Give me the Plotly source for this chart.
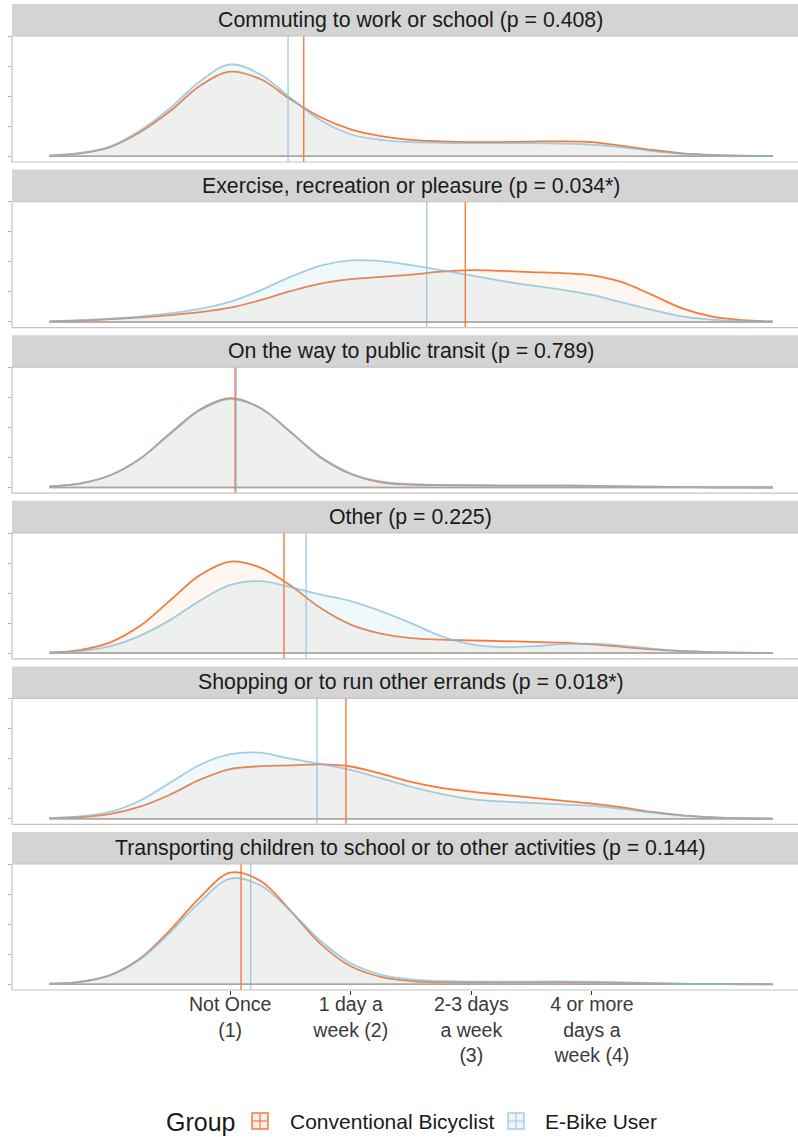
import plotly.graph_objects as go

# ---------------- data ----------------
x_grid = [-0.5, -0.25, 0, 0.25, 0.5, 0.75, 1, 1.25, 1.5, 1.75, 2, 2.25, 2.5,
          2.75, 3, 3.25, 3.5, 3.75, 4, 4.25, 4.5, 4.75, 5, 5.25, 5.5]

panel_titles = [
    "Commuting to work or school (p = 0.408)",
    "Exercise, recreation or pleasure (p = 0.034*)",
    "On the way to public transit (p = 0.789)",
    "Other (p = 0.225)",
    "Shopping or to run other errands (p = 0.018*)",
    "Transporting children to school or to other activities (p = 0.144)",
]

legend_title = "Group"
group_names = ["Conventional Bicyclist", "E-Bike User"]

tick_values = [1, 2, 3, 4]
tick_labels = ["Not Once<br>(1)", "1 day a<br>week (2)",
               "2-3 days<br>a week<br>(3)", "4 or more<br>days a<br>week (4)"]

commute_conv = [0.005, 0.02, 0.06, 0.16, 0.30, 0.47, 0.564, 0.515, 0.38, 0.26, 0.18, 0.135, 0.11,
                0.10, 0.095, 0.095, 0.098, 0.10, 0.095, 0.07, 0.042, 0.02, 0.009, 0.004, 0.002]
commute_ebike = [0.005, 0.022, 0.065, 0.17, 0.32, 0.50, 0.613, 0.545, 0.39, 0.24, 0.147, 0.11, 0.095,
                 0.09, 0.088, 0.088, 0.088, 0.085, 0.078, 0.06, 0.035, 0.017, 0.007, 0.003, 0.001]

exercise_conv = [0.003, 0.008, 0.018, 0.03, 0.045, 0.065, 0.095, 0.145, 0.205, 0.255, 0.285, 0.30, 0.315,
                 0.335, 0.345, 0.34, 0.332, 0.325, 0.31, 0.265, 0.18, 0.09, 0.035, 0.012, 0.004]
exercise_ebike = [0.004, 0.012, 0.022, 0.035, 0.058, 0.087, 0.135, 0.21, 0.30, 0.375, 0.41, 0.405, 0.378,
                  0.345, 0.31, 0.273, 0.243, 0.215, 0.18, 0.13, 0.08, 0.037, 0.015, 0.006, 0.002]

transit_conv = [0.007, 0.026, 0.08, 0.19, 0.36, 0.52, 0.595, 0.53, 0.37, 0.20, 0.09, 0.035, 0.02,
                0.016, 0.014, 0.013, 0.012, 0.012, 0.011, 0.008, 0.005, 0.003, 0.001, 0.0005, 0.0]
transit_ebike = [0.007, 0.026, 0.08, 0.19, 0.355, 0.515, 0.59, 0.53, 0.37, 0.205, 0.095, 0.04, 0.022,
                 0.017, 0.015, 0.013, 0.012, 0.012, 0.011, 0.008, 0.005, 0.003, 0.001, 0.0005, 0.0]

other_conv = [0.004, 0.02, 0.07, 0.18, 0.35, 0.52, 0.61, 0.57, 0.45, 0.30, 0.19, 0.13, 0.10,
              0.09, 0.085, 0.08, 0.075, 0.07, 0.058, 0.042, 0.025, 0.013, 0.006, 0.003, 0.001]
other_ebike = [0.003, 0.013, 0.045, 0.115, 0.22, 0.35, 0.455, 0.48, 0.44, 0.39, 0.347, 0.28, 0.20,
               0.113, 0.058, 0.04, 0.045, 0.06, 0.063, 0.05, 0.03, 0.014, 0.006, 0.002, 0.001]

shopping_conv = [0.003, 0.01, 0.03, 0.08, 0.16, 0.26, 0.33, 0.35, 0.355, 0.362, 0.348, 0.30, 0.245,
                 0.205, 0.18, 0.16, 0.14, 0.12, 0.10, 0.075, 0.045, 0.022, 0.009, 0.003, 0.001]
shopping_ebike = [0.004, 0.015, 0.045, 0.12, 0.24, 0.36, 0.43, 0.44, 0.40, 0.365, 0.325, 0.27, 0.213,
                  0.165, 0.13, 0.115, 0.105, 0.095, 0.085, 0.065, 0.04, 0.02, 0.008, 0.003, 0.001]

children_conv = [0.004, 0.016, 0.06, 0.17, 0.36, 0.58, 0.745, 0.69, 0.49, 0.27, 0.12, 0.05, 0.022,
                 0.013, 0.012, 0.012, 0.013, 0.013, 0.012, 0.009, 0.006, 0.003, 0.001, 0.0005, 0.0]
children_ebike = [0.004, 0.015, 0.058, 0.165, 0.345, 0.55, 0.705, 0.66, 0.49, 0.29, 0.14, 0.065, 0.032,
                  0.022, 0.018, 0.017, 0.018, 0.019, 0.017, 0.013, 0.008, 0.004, 0.002, 0.001, 0.0]

conv_means = [1.61, 2.95, 1.04, 1.446, 1.96, 1.09]
ebike_means = [1.48, 2.63, 1.05, 1.63, 1.72, 1.17]

conv_series = [commute_conv, exercise_conv, transit_conv, other_conv, shopping_conv, children_conv]
ebike_series = [commute_ebike, exercise_ebike, transit_ebike, other_ebike, shopping_ebike, children_ebike]

# ---------------- styling / geometry ----------------
W, H = 798, 1137
ORANGE = "#F37B3F"
BLUE = "rgba(128,185,215,0.7)"      # looks like #A6CEE3 on white, grey on orange
BLUE_SOLID = "#A6CEE3"
ORANGE_FILL = "rgba(243,123,63,0.07)"
BLUE_FILL = "rgba(150,205,225,0.15)"
FONT = "Liberation Sans, Arial, Helvetica, sans-serif"

PLOT_L, PLOT_R = 12, 798          # visible part of the panels
PANEL_R_FULL = 809                # panels continue past the right edge of the picture
FIRST_TOP, PERIOD, PLOT_H, STRIP_H = 36, 165.6, 126, 32
X_RANGE = [-0.81, 5.71]
Y_RANGE = [-0.038, 0.802]


def px(x):
    return x / W


def py(y):
    return 1 - y / H


fig = go.Figure()
shapes = []
annotations = []
layout_axes = {}

for i in range(6):
    sfx = "" if i == 0 else str(i + 1)
    xa, ya = "x" + sfx, "y" + sfx
    top = FIRST_TOP + PERIOD * i
    bottom = top + PLOT_H
    ydom = [py(bottom), py(top)]
    xdom = [px(PLOT_L), px(PLOT_R)]

    for series, color, fillc in ((conv_series[i], ORANGE, ORANGE_FILL),
                                  (ebike_series[i], BLUE, BLUE_FILL)):
        fig.add_trace(go.Scatter(
            x=x_grid, y=series, mode="lines", xaxis=xa, yaxis=ya,
            line=dict(color=color, width=1.8, shape="spline", smoothing=1.0),
            fill="tozeroy", fillcolor=fillc, showlegend=False, hoverinfo="skip"))
        fig.add_trace(go.Scatter(
            x=[x_grid[0], x_grid[-1]], y=[0, 0], mode="lines", xaxis=xa, yaxis=ya,
            line=dict(color=color, width=1.5), showlegend=False, hoverinfo="skip"))

    for m, color in ((conv_means[i], ORANGE), (ebike_means[i], BLUE)):
        shapes.append(dict(type="line", xref=xa, yref=ya + " domain",
                           x0=m, x1=m, y0=0, y1=1,
                           line=dict(color=color, width=1.4), layer="above"))

    # panel border (right side lies outside the picture)
    shapes.append(dict(type="rect", xref="paper", yref="paper",
                       x0=px(PLOT_L), x1=px(PANEL_R_FULL), y0=ydom[0], y1=ydom[1],
                       line=dict(color="#C4C4C4", width=1.2), layer="above"))
    # strip
    stop = top - STRIP_H
    shapes.append(dict(type="rect", xref="paper", yref="paper",
                       x0=px(PLOT_L), x1=px(PANEL_R_FULL), y0=py(top), y1=py(stop),
                       fillcolor="#D4D4D4", line=dict(width=0), layer="below"))
    annotations.append(dict(text=panel_titles[i], xref="paper", yref="paper",
                            x=px((PLOT_L + PANEL_R_FULL) / 2), y=py(stop + STRIP_H / 2),
                            xanchor="center", yanchor="middle", showarrow=False,
                            font=dict(family=FONT, size=21.3, color="#1A1A1A")))

    last = (i == 5)
    layout_axes["xaxis" + sfx] = dict(
        domain=xdom, range=X_RANGE, anchor=ya, showgrid=False, zeroline=False,
        showline=False, tickvals=tick_values,
        ticktext=tick_labels if last else None,
        showticklabels=last, ticks="outside" if last else "",
        ticklen=4, tickwidth=1.2, tickcolor="#333333",
        tickfont=dict(family=FONT, size=19.5, color="#3A3A3A"),
        ticklabelstandoff=-7,
        automargin=False, fixedrange=True)
    layout_axes["yaxis" + sfx] = dict(
        domain=ydom, range=Y_RANGE, anchor=xa, showgrid=False, zeroline=False,
        showline=False, tickvals=[0, 0.2, 0.4, 0.6, 0.8], showticklabels=False,
        ticks="outside", ticklen=3, tickwidth=1, tickcolor="#B0B0B0",
        automargin=False, fixedrange=True)

# ---------------- legend (drawn by hand so it does not push the margins) ----------------
LEG_Y = 1121
annotations.append(dict(text=legend_title, xref="paper", yref="paper",
                        x=px(164), y=py(LEG_Y + 1), xanchor="left", yanchor="middle",
                        showarrow=False, font=dict(family=FONT, size=25, color="#1A1A1A")))
key_specs = [(252, 288, ORANGE, "#FBEFE9", group_names[0]),
             (508, 543, BLUE_SOLID, "#EEF5F9", group_names[1])]
for kx, tx, color, fillc, name in key_specs:
    shapes.append(dict(type="rect", xref="paper", yref="paper",
                       x0=px(kx), x1=px(kx + 16), y0=py(LEG_Y + 8), y1=py(LEG_Y - 8),
                       fillcolor=fillc, line=dict(color=color, width=1.5)))
    shapes.append(dict(type="line", xref="paper", yref="paper",
                       x0=px(kx + 8), x1=px(kx + 8), y0=py(LEG_Y + 8), y1=py(LEG_Y - 8),
                       line=dict(color=color, width=1.2)))
    shapes.append(dict(type="line", xref="paper", yref="paper",
                       x0=px(kx), x1=px(kx + 16), y0=py(LEG_Y), y1=py(LEG_Y),
                       line=dict(color=color, width=1.2)))
    annotations.append(dict(text=name, xref="paper", yref="paper",
                            x=px(tx), y=py(LEG_Y), xanchor="left", yanchor="middle",
                            showarrow=False, font=dict(family=FONT, size=21, color="#1A1A1A")))

fig.update_layout(
    width=W, height=H, margin=dict(l=0, r=0, t=0, b=0, autoexpand=False),
    paper_bgcolor="white", plot_bgcolor="white",
    font=dict(family=FONT, color="#1A1A1A"),
    shapes=shapes, annotations=annotations,
    showlegend=False,
    **layout_axes,
)

fig.write_html("out.html")
